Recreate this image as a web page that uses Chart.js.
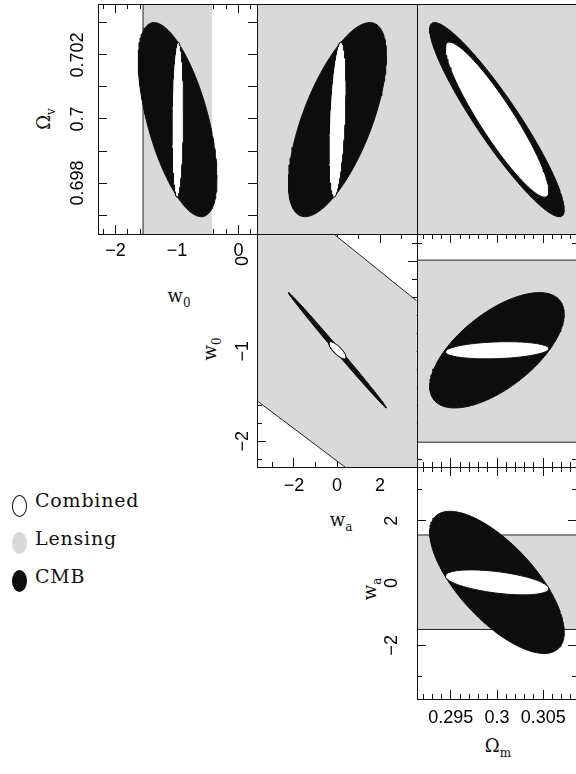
<!DOCTYPE html>
<html>
<head>
<meta charset="utf-8">
<script src="https://cdn.jsdelivr.net/npm/chart.js@4.4.1/dist/chart.umd.min.js"></script>
<style>
  html, body { margin: 0; padding: 0; background: #fff; }
  body { width: 576px; height: 774px; position: relative; overflow: hidden; }
  canvas { position: absolute; }
  .ttl { position: absolute; font-family: "DejaVu Serif", serif; font-size: 18px; color: #111; line-height: 1; white-space: nowrap; transform: translate(-50%, -50%); }
  .ttl.rot { transform: translate(-50%, -50%) rotate(-90deg); }
  .ttl sub { font-size: 12px; vertical-align: -5px; line-height: 1; }
  .key { position: absolute; left: 35px; font-family: "DejaVu Serif", serif; font-size: 19px; letter-spacing: 0.8px; line-height: 1; color: #111; white-space: nowrap; }
  .sym { position: absolute; left: 12px; width: 15px; height: 22px; border-radius: 50%; box-sizing: border-box; }
</style>
</head>
<body>

<!-- legend -->
<div class="sym" style="top:495px; background:#fff; border:1px solid #111;"></div>
<div class="key" style="top:491px;">Combined</div>
<div class="sym" style="top:532px; background:#d9d9d9;"></div>
<div class="key" style="top:529px;">Lensing</div>
<div class="sym" style="top:570px; background:#0d0d0d;"></div>
<div class="key" style="top:567px;">CMB</div>

<!-- axis titles -->
<div class="ttl rot" style="left:46px; top:119px;">&Omega;<sub>v</sub></div>
<div class="ttl" style="left:179px; top:298px;">w<sub>0</sub></div>
<div class="ttl rot" style="left:212px; top:349px;">w<sub>0</sub></div>
<div class="ttl" style="left:341px; top:522px;">w<sub>a</sub></div>
<div class="ttl rot" style="left:372px; top:589px;">w<sub>a</sub></div>
<div class="ttl" style="left:498px; top:748px;">&Omega;<sub>m</sub></div>

<script>
// axis ranges
const w0Range = [-2.285, 0.30];
const waRange = [-3.72, 3.72];
const omRange = [0.29134, 0.30866];
const ovRange = [0.69641, 0.70359];

// contour centre and half widths, order: w0, wa, Om, Ov
const centre   = [-0.99, 0.02, 0.3, 0.69998];
const cmbHalf  = [0.64, 2.28, 0.00728, 0.00303];
const combHalf = [0.095, 0.40, 0.0056, 0.00242];

// panels as [x param, y param] and the tilt of each contour
const pairs   = [[0, 3], [1, 3], [2, 3], [1, 0], [2, 0], [2, 1]];
const cmbRho  = [-0.60, 0.66, -0.925, -0.998, 0.63, -0.70];
const combRho = [0.10, 0.40, -0.92, -0.80, 0.20, -0.50];

// lensing contour where it cuts the panels
const lensW0Ov  = [-1.553, -0.431];                  // w0 edges, w0-Ov panel
const lensW0Om  = [-2.01, 0.01];                     // w0 edges, Om-w0 panel
const lensWaOm  = [-1.49, 1.54];                     // wa edges, Om-wa panel
const lensUpper = [[-0.09, 0.289], [3.70, -0.441]];  // wa-w0 panel
const lensLower = [[-3.71, -1.552], [0.37, -2.285]];

const ranges = [w0Range, waRange, omRange, ovRange];
// tick steps: major tick, labelled tick, minor tick
const tickSteps = [[1, 1, 0.2], [2, 2, 1], [0.005, 0.005, 0.001], [0.001, 0.002, 0]];

const ink = '#111';
const grey = '#d9d9d9';
const black = '#0d0d0d';
const tickFont = { family: 'Liberation Sans', size: 18, lineHeight: 1.2 };
const meas = document.createElement('canvas').getContext('2d');
meas.font = '18px "Liberation Sans"';

const fmt = v => String(+v.toFixed(4)).replace('-', '\u2212');
const onStep = (v, s) => Math.abs(v / s - Math.round(v / s)) < 1e-6;

const ellipse = (p, half, rho) => {
    const [i, j] = pairs[p];
    const pts = [];
    const k = Math.sqrt(1 - rho * rho);
    for (let n = 0; n <= 160; n++) {
        const t = n / 160 * 2 * Math.PI;
        pts.push({ x: centre[i] + half[i] * Math.cos(t),
                   y: centre[j] + half[j] * (rho * Math.cos(t) + k * Math.sin(t)) });
    }
    return pts;
};

const box = (xr, yr) => [{x: xr[0], y: yr[0]}, {x: xr[0], y: yr[1]}, {x: xr[1], y: yr[1]}, {x: xr[1], y: yr[0]}, {x: xr[0], y: yr[0]}];

const poly = (pts, fillColor, order) => ({ data: pts, showLine: true, fill: 'shape', backgroundColor: fillColor,
    borderColor: 'rgba(0,0,0,0)', borderWidth: 1, pointRadius: 0, tension: 0, order: order, clip: 0 });
const edge = pts => ({ data: pts, showLine: true, fill: false, borderColor: '#222', borderWidth: 1,
    pointRadius: 0, tension: 0, order: 3, clip: 0 });

function lensing(p) {
    const [i, j] = pairs[p];
    const xr = ranges[i], yr = ranges[j];
    if (p === 0) {
        return [poly(box(lensW0Ov, yr), grey, 4),
                edge([{x: lensW0Ov[0], y: yr[0]}, {x: lensW0Ov[0], y: yr[1]}])];
    }
    if (p === 3) {
        const pts = [{x: xr[0], y: yr[1]}, {x: lensUpper[0][0], y: lensUpper[0][1]}, {x: lensUpper[1][0], y: lensUpper[1][1]},
                     {x: xr[1], y: yr[0]}, {x: lensLower[1][0], y: lensLower[1][1]}, {x: lensLower[0][0], y: lensLower[0][1]},
                     {x: xr[0], y: yr[1]}];
        return [poly(pts, grey, 4),
                edge(lensUpper.map(q => ({x: q[0], y: q[1]}))),
                edge(lensLower.map(q => ({x: q[0], y: q[1]})))];
    }
    if (p === 4 || p === 5) {
        const b = p === 4 ? lensW0Om : lensWaOm;
        return [poly(box(xr, b), grey, 4),
                edge([{x: xr[0], y: b[0]}, {x: xr[1], y: b[0]}]),
                edge([{x: xr[0], y: b[1]}, {x: xr[1], y: b[1]}])];
    }
    return [poly(box(xr, yr), grey, 4)];
}

// fixed axis size, and no extra padding pushed onto the plot area by the labels
const fixSize = (horiz, size) => s => {
    if (horiz) s.height = size; else s.width = size;
    s.paddingTop = s.paddingBottom = s.paddingLeft = s.paddingRight = 0;
};

function sideScales(id, pos, par, show, size, off) {
    const horiz = pos === 'bottom' || pos === 'top';
    const [tick, lab, minor] = tickSteps[par];
    const r = ranges[par];
    const len = 9;
    const out = {};
    const major = {
        type: 'linear', position: pos, min: r[0], max: r[1], weight: 1,
        grid: { drawOnChartArea: false, drawTicks: true, tickLength: -len, tickColor: ink, tickWidth: 1 },
        border: { display: true, color: ink, width: 1, z: 1 },
        ticks: { display: show, stepSize: tick, includeBounds: false, autoSkip: false, color: '#000', font: tickFont,
                 callback: v => onStep(v, lab) ? fmt(v) : '' },
        afterFit: fixSize(horiz, size)
    };
    if (show && horiz) {
        Object.assign(major.ticks, { minRotation: 0, maxRotation: 0, padding: off + len - 10.8 });
    } else if (show) {
        const labels = [];
        for (let v = Math.ceil(r[0] / lab) * lab; v <= r[1]; v += lab) labels.push(fmt(v));
        const widest = Math.max(...labels.map(t => meas.measureText(t).width));
        Object.assign(major.ticks, { minRotation: 90, maxRotation: 90, crossAlign: 'center', padding: off + len - widest / 2 });
    }
    out[id] = major;
    if (minor) {
        out[id + 'm'] = {
            type: 'linear', position: pos, min: r[0], max: r[1], weight: 0,
            grid: { drawOnChartArea: false, drawTicks: true, tickLength: -5, tickColor: ink, tickWidth: 1 },
            border: { display: false },
            ticks: { display: false, stepSize: minor, includeBounds: false, autoSkip: false },
            afterFit: fixSize(horiz, 0)
        };
    }
    return out;
}

// where each panel frame sits on the page: left, top, width, height and label offsets
const layout = [
    { left: 98,  top: 4,   w: 159, h: 230, xLab: 17.5, yLab: 20 },
    { left: 257, top: 4,   w: 160, h: 230 },
    { left: 417, top: 4,   w: 160, h: 230 },
    { left: 257, top: 234, w: 160, h: 233, xLab: 19.5, yLab: 14 },
    { left: 417, top: 234, w: 160, h: 233 },
    { left: 417, top: 467, w: 160, h: 232, xLab: 19, yLab: 25 }
];

layout.forEach((L, p) => {
    const [i, j] = pairs[p];
    const m = { l: L.yLab ? 57 : 2, t: 2, r: 2, b: L.xLab ? 40 : 2 };
    if (p === 0) m.l = 98;
    if (p < 3) m.t = 4;
    const cv = document.createElement('canvas');
    cv.width = L.w + m.l + m.r;
    cv.height = L.h + m.t + m.b;
    cv.style.left = (L.left - m.l) + 'px';
    cv.style.top = (L.top - m.t) + 'px';
    cv.style.width = cv.width + 'px';
    cv.style.height = cv.height + 'px';
    document.body.appendChild(cv);

    const scales = Object.assign({},
        sideScales('x', 'bottom', i, !!L.xLab, m.b, L.xLab),
        sideScales('x2', 'top', i, false, m.t),
        sideScales('y', 'left', j, !!L.yLab, m.l, L.yLab),
        sideScales('y2', 'right', j, false, m.r));

    const datasets = [
        Object.assign(poly(ellipse(p, combHalf, combRho[p]), '#ffffff', 1), { borderColor: ink, borderWidth: 1 }),
        Object.assign(poly(ellipse(p, cmbHalf, cmbRho[p]), black, 2), { borderColor: black, borderWidth: 1 })
    ].concat(lensing(p));

    new Chart(cv, {
        type: 'scatter',
        data: { datasets: datasets },
        options: {
            responsive: false,
            animation: false,
            devicePixelRatio: 1,
            layout: { padding: 0, autoPadding: false },
            scales: scales,
            plugins: { legend: { display: false }, tooltip: { enabled: false } },
            events: []
        }
    });
});
</script>
</body>
</html>
